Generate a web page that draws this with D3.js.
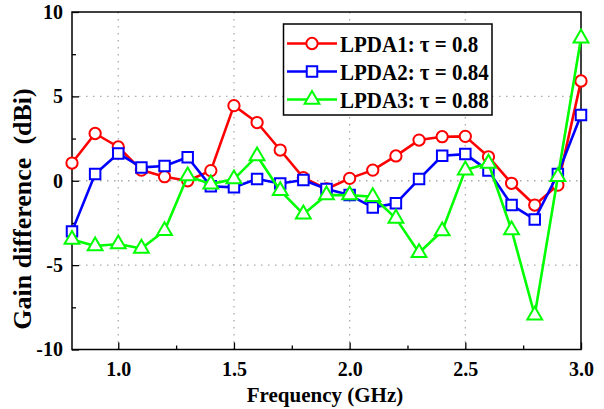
<!DOCTYPE html>
<html>
<head>
<meta charset="utf-8">
<script src="https://cdn.jsdelivr.net/npm/d3@7"></script>
<style>
  html, body { margin: 0; padding: 0; background: #fff; }
  svg text { font-family: "Liberation Serif", "Times New Roman", serif; font-weight: bold; fill: #000; }
</style>
</head>
<body>
<svg id="chart" width="604" height="409"></svg>
<script>
// Frequency samples (GHz)
const freq = [0.8, 0.9, 1.0, 1.1, 1.2, 1.3, 1.4, 1.5, 1.6, 1.7, 1.8, 1.9,
              2.0, 2.1, 2.2, 2.3, 2.4, 2.5, 2.6, 2.7, 2.8, 2.9, 3.0];

// Gain difference (dBi) per antenna
const lpda1 = [1.05, 2.8, 2.0, 0.63, 0.24, 0.0, 0.6, 4.45, 3.45, 1.82, 0.18, -0.49,
               0.14, 0.63, 1.47, 2.41, 2.61, 2.63, 1.42, -0.15, -1.44, -0.26, 5.91];
const lpda2 = [-3.0, 0.4, 1.62, 0.79, 0.87, 1.39, -0.33, -0.39, 0.1, -0.16, 0.04, -0.49,
               -0.85, -1.58, -1.34, 0.1, 1.48, 1.58, 0.6, -1.44, -2.29, 0.4, 3.9];
const lpda3 = [-3.48, -3.87, -3.75, -4.01, -2.96, 0.28, -0.2, 0.1, 1.47, -0.59, -1.98, -0.85,
               -0.85, -0.95, -2.23, -4.27, -2.98, 0.63, 1.03, -2.92, -7.97, 0.24, 8.45];

const seriesNames = ["LPDA1: \u03c4 = 0.8", "LPDA2: \u03c4 = 0.84", "LPDA3: \u03c4 = 0.88"];
const xTicks = [1.0, 1.5, 2.0, 2.5, 3.0];
const xMinorTicks = [1.25, 1.75, 2.25, 2.75];
const yTicks = [-10, -5, 0, 5, 10];
const yMinorTicks = [-7.5, -2.5, 2.5, 7.5];

const series = [
  { name: seriesNames[0], values: lpda1, color: "#ff0000", marker: "circle" },
  { name: seriesNames[1], values: lpda2, color: "#0000ff", marker: "square" },
  { name: seriesNames[2], values: lpda3, color: "#00ff00", marker: "triangle" }
];

const svg = d3.select("#chart");
const m = { left: 72, right: 581, top: 12, bottom: 349.5 };

const x = d3.scaleLinear().domain([0.8, 3.0]).range([m.left, m.right]);
const y = d3.scaleLinear().domain([-10, 10]).range([m.bottom, m.top]);

// dotted grid at major ticks
const grid = svg.append("g").attr("stroke", "#aaa").attr("stroke-width", 1.3)
  .attr("stroke-dasharray", "1.5,5.5");
grid.selectAll("line.gx").data(xTicks.filter(d => d < 3.0)).join("line")
  .attr("x1", d => x(d)).attr("x2", d => x(d))
  .attr("y1", m.top).attr("y2", m.bottom);
grid.selectAll("line.gy").data(yTicks.filter(d => d > -10 && d < 10)).join("line")
  .attr("x1", m.left).attr("x2", m.right)
  .attr("y1", d => y(d)).attr("y2", d => y(d));

// axes with inward ticks
const xAxis = d3.axisBottom(x).tickValues(xTicks).tickSize(-7).tickPadding(12)
  .tickFormat(d3.format(".1f"));
const gx = svg.append("g").attr("transform", `translate(0,${m.bottom})`).call(xAxis);
gx.select(".domain").remove();
gx.selectAll("line").attr("stroke", "#000").attr("stroke-width", 1.3);
gx.selectAll("text").style("font-size", "20px");
const gxm = svg.append("g").attr("transform", `translate(0,${m.bottom})`)
  .call(d3.axisBottom(x).tickValues(xMinorTicks).tickSize(-4).tickFormat(""));
gxm.select(".domain").remove();
gxm.selectAll("line").attr("stroke", "#000").attr("stroke-width", 1.3);

// plain hyphen for negative labels
const yAxis = d3.axisLeft(y).tickValues(yTicks).tickSize(-7).tickPadding(9)
  .tickFormat(d => String(d));
const gy = svg.append("g").attr("transform", `translate(${m.left},0)`).call(yAxis);
gy.select(".domain").remove();
gy.selectAll("line").attr("stroke", "#000").attr("stroke-width", 1.3);
gy.selectAll("text").style("font-size", "20px");
const gym = svg.append("g").attr("transform", `translate(${m.left},0)`)
  .call(d3.axisLeft(y).tickValues(yMinorTicks).tickSize(-4).tickFormat(""));
gym.select(".domain").remove();
gym.selectAll("line").attr("stroke", "#000").attr("stroke-width", 1.3);

// frame
svg.append("rect").attr("x", m.left).attr("y", m.top)
  .attr("width", m.right - m.left).attr("height", m.bottom - m.top)
  .attr("fill", "none").attr("stroke", "#000").attr("stroke-width", 1.5);

// axis titles
svg.append("text").attr("x", 325).attr("y", 402)
  .attr("text-anchor", "middle").style("font-size", "21px").text("Frequency (GHz)");
svg.append("text").attr("transform", "translate(31,209) rotate(-90)")
  .attr("text-anchor", "middle").style("font-size", "26px")
  .style("white-space", "pre").text("Gain difference  (dBi)");

const markerPath = {
  circle: d3.symbol(d3.symbolCircle, 100)(),
  square: d3.symbol(d3.symbolSquare, 110)(),
  triangle: d3.symbol(d3.symbolTriangle, 95)()
};

const line = d3.line().x((d, i) => x(freq[i])).y(d => y(d));

series.forEach(s => {
  const g = svg.append("g");
  g.append("path").datum(s.values).attr("d", line)
    .attr("fill", "none").attr("stroke", s.color).attr("stroke-width", 2.6)
    .attr("stroke-linejoin", "round");
  g.selectAll("path.mk").data(s.values).join("path").attr("class", "mk")
    .attr("d", markerPath[s.marker])
    .attr("transform", (d, i) => `translate(${x(freq[i])},${y(d)})`)
    .attr("fill", "#fff").attr("stroke", s.color).attr("stroke-width", 2);
});

// legend
const lg = svg.append("g");
lg.append("rect").attr("x", 283.5).attr("y", 24).attr("width", 208.5).attr("height", 91)
  .attr("fill", "#fff").attr("stroke", "#000").attr("stroke-width", 1.5);
series.forEach((s, i) => {
  const cy = 43.5 + i * 28;
  lg.append("line").attr("x1", 287).attr("x2", 337).attr("y1", cy).attr("y2", cy)
    .attr("stroke", s.color).attr("stroke-width", 2.6);
  lg.append("path").attr("d", markerPath[s.marker])
    .attr("transform", `translate(312,${cy})`)
    .attr("fill", "#fff").attr("stroke", s.color).attr("stroke-width", 2);
  lg.append("text").attr("transform", `translate(340,${cy + 8}) scale(1,1.08)`)
    .style("font-size", "21px").text(s.name);
});
</script>
</body>
</html>
